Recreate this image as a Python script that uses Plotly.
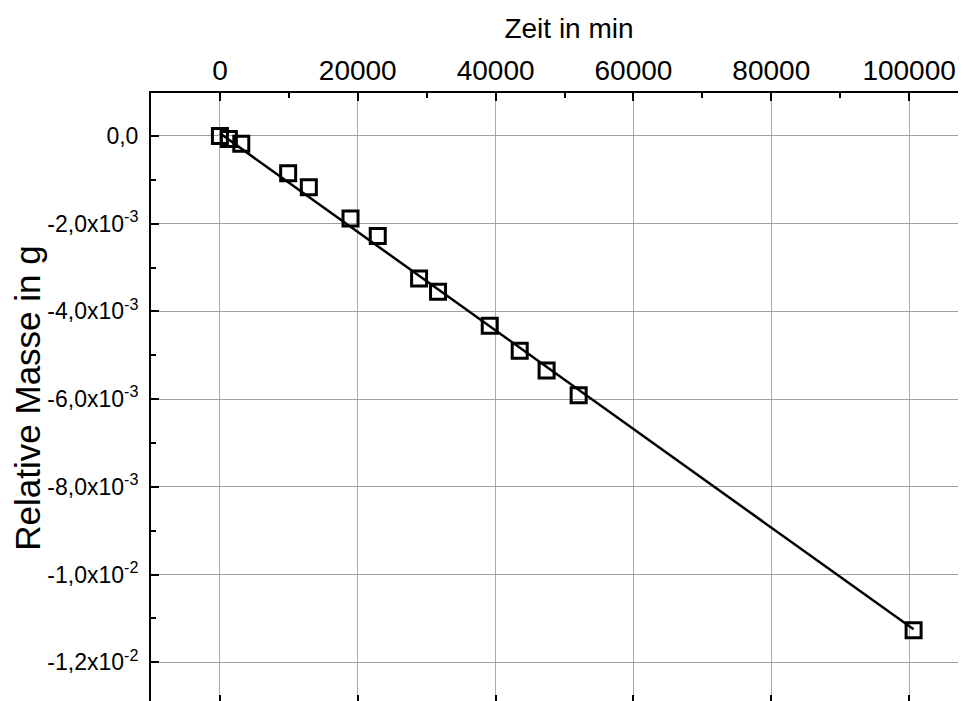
import plotly.graph_objects as go

# Data
zeit_min = [0, 1300, 3100, 9900, 12900, 18950, 22900, 28900, 31650, 39150, 43500, 47400, 52050, 100650]
rel_masse = [0.0, -0.00007, -0.00018, -0.00085, -0.00117, -0.00188, -0.00228, -0.00325, -0.00355,
             -0.00433, -0.00490, -0.00535, -0.00591, -0.01127]

# Linear fit line endpoints
fit_x = [0, 100650]
fit_y = [0.00006, -0.01125]

x_tickvals = [0, 20000, 40000, 60000, 80000, 100000]
x_ticktext = ["0", "20000", "40000", "60000", "80000", "100000"]
x_minor = [-10000, 10000, 30000, 50000, 70000, 90000, 110000]

y_tickvals = [0.0, -0.002, -0.004, -0.006, -0.008, -0.010, -0.012]
y_ticktext = ["0,0", "-2,0x10<sup>-3</sup>", "-4,0x10<sup>-3</sup>", "-6,0x10<sup>-3</sup>",
              "-8,0x10<sup>-3</sup>", "-1,0x10<sup>-2</sup>", "-1,2x10<sup>-2</sup>"]
y_minor = [-0.001, -0.003, -0.005, -0.007, -0.009, -0.011]

FONT = "Liberation Sans, Arial, sans-serif"
X_RANGE = [-10000, 111300]
Y_RANGE = [-0.01293, 0.00098]

fig = go.Figure()
fig.add_trace(go.Scatter(x=fit_x, y=fit_y, mode="lines",
                         line=dict(color="black", width=2.5), showlegend=False, hoverinfo="skip"))
fig.add_trace(go.Scatter(x=zeit_min, y=rel_masse, mode="markers",
                         marker=dict(symbol="square-open", size=15, color="black",
                                     line=dict(width=3, color="black")),
                         showlegend=False))
# invisible trace for bottom mirrored ticks
fig.add_trace(go.Scatter(x=[zeit_min[0]], y=[rel_masse[0]], xaxis="x2", mode="markers",
                         marker=dict(opacity=0), showlegend=False, hoverinfo="skip"))

fig.update_layout(
    width=979, height=695,
    margin=dict(l=143, r=0, t=85, b=0),
    paper_bgcolor="white", plot_bgcolor="white",
    font=dict(family=FONT, color="black", size=23),
    xaxis=dict(
        side="top", range=X_RANGE, automargin=False,
        showline=True, linecolor="black", linewidth=2,
        ticks="inside", ticklen=8, tickwidth=2, tickcolor="black",
        tickvals=x_tickvals, ticktext=x_ticktext, ticklabelstandoff=0,
        showgrid=True, gridcolor="#acacac", gridwidth=1, zeroline=False,
        minor=dict(tickvals=x_minor, ticks="inside", ticklen=5, tickwidth=2, tickcolor="black", showgrid=False),
        title=dict(text="Zeit in min", font=dict(size=28), standoff=8),
        tickfont=dict(size=28),
    ),
    xaxis2=dict(
        overlaying="x", matches="x", side="bottom", range=X_RANGE, automargin=False,
        showline=False, ticks="inside", ticklen=8, tickwidth=2, tickcolor="black",
        tickvals=x_tickvals, showticklabels=False, showgrid=False, zeroline=False,
    ),
    yaxis=dict(
        range=Y_RANGE, automargin=False,
        showline=True, linecolor="black", linewidth=2,
        ticks="inside", ticklen=8, tickwidth=2, tickcolor="black",
        tickvals=y_tickvals, ticktext=y_ticktext, ticklabelstandoff=6,
        showgrid=True, gridcolor="#a0a0a0", gridwidth=1, zeroline=False,
        minor=dict(tickvals=y_minor, ticks="inside", ticklen=5, tickwidth=2, tickcolor="black", showgrid=False),
        title=dict(text="Relative Masse in g", font=dict(size=35), standoff=2),
        tickfont=dict(size=23),
    ),
)

fig.write_html("out.html")
